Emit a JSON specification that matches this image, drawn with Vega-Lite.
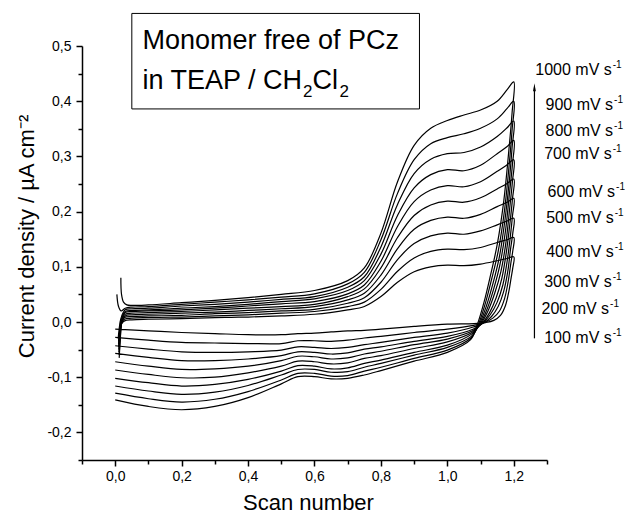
{
"$schema":"https://vega.github.io/schema/vega-lite/v6.json",
"width":465,"height":414,
"autosize":"none",
"padding":{"left":82,"top":46,"right":78,"bottom":55},
"config":{"view":{"stroke":null},"font":"Liberation Sans","text":{"color":"black"}},
"datasets":{"cv":[
{"c":1,"x":0.010,"y":-0.035},{"c":1,"x":0.013,"y":-0.020},{"c":1,"x":0.018,"y":-0.004},{"c":1,"x":0.028,"y":0.002},
{"c":1,"x":0.05,"y":0.004},{"c":1,"x":0.1,"y":0.005},{"c":1,"x":0.2,"y":0.006},{"c":1,"x":0.3,"y":0.008},{"c":1,"x":0.4,"y":0.009},{"c":1,"x":0.5,"y":0.011},{"c":1,"x":0.6,"y":0.014},{"c":1,"x":0.7,"y":0.022},{"c":1,"x":0.75,"y":0.028},{"c":1,"x":0.8,"y":0.046},{"c":1,"x":0.85,"y":0.072},{"c":1,"x":0.9,"y":0.091},{"c":1,"x":0.95,"y":0.100},{"c":1,"x":1.0,"y":0.103},{"c":1,"x":1.05,"y":0.102},{"c":1,"x":1.1,"y":0.105},{"c":1,"x":1.15,"y":0.111},{"c":1,"x":1.18,"y":0.115},{"c":1,"x":1.2,"y":0.118},
{"c":1,"x":1.197,"y":0.098},{"c":1,"x":1.192,"y":0.080},{"c":1,"x":1.185,"y":0.055},{"c":1,"x":1.175,"y":0.030},{"c":1,"x":1.16,"y":0.012},{"c":1,"x":1.14,"y":0.003},{"c":1,"x":1.115,"y":-0.001},{"c":1,"x":1.08,"y":-0.003},
{"c":1,"x":1.0,"y":-0.004},{"c":1,"x":0.9,"y":-0.008},{"c":1,"x":0.8,"y":-0.013},{"c":1,"x":0.75,"y":-0.015},{"c":1,"x":0.7,"y":-0.016},{"c":1,"x":0.65,"y":-0.018},{"c":1,"x":0.6,"y":-0.020},{"c":1,"x":0.55,"y":-0.021},{"c":1,"x":0.5,"y":-0.023},{"c":1,"x":0.4,"y":-0.023},{"c":1,"x":0.3,"y":-0.021},{"c":1,"x":0.2,"y":-0.019},{"c":1,"x":0.1,"y":-0.016},{"c":1,"x":0.0,"y":-0.013},

{"c":2,"x":0.010,"y":-0.045},{"c":2,"x":0.013,"y":-0.025},{"c":2,"x":0.018,"y":-0.003},{"c":2,"x":0.028,"y":0.005},
{"c":2,"x":0.05,"y":0.007},{"c":2,"x":0.1,"y":0.008},{"c":2,"x":0.2,"y":0.009},{"c":2,"x":0.3,"y":0.011},{"c":2,"x":0.4,"y":0.013},{"c":2,"x":0.5,"y":0.016},{"c":2,"x":0.6,"y":0.019},{"c":2,"x":0.7,"y":0.028},{"c":2,"x":0.75,"y":0.036},{"c":2,"x":0.8,"y":0.059},{"c":2,"x":0.85,"y":0.092},{"c":2,"x":0.9,"y":0.116},{"c":2,"x":0.95,"y":0.128},{"c":2,"x":1.0,"y":0.132},{"c":2,"x":1.05,"y":0.131},{"c":2,"x":1.1,"y":0.135},{"c":2,"x":1.15,"y":0.144},{"c":2,"x":1.18,"y":0.149},{"c":2,"x":1.2,"y":0.153},
{"c":2,"x":1.197,"y":0.129},{"c":2,"x":1.191,"y":0.106},{"c":2,"x":1.183,"y":0.073},{"c":2,"x":1.172,"y":0.042},{"c":2,"x":1.157,"y":0.020},{"c":2,"x":1.137,"y":0.007},{"c":2,"x":1.112,"y":-0.001},{"c":2,"x":1.079,"y":-0.006},
{"c":2,"x":1.0,"y":-0.013},{"c":2,"x":0.9,"y":-0.019},{"c":2,"x":0.8,"y":-0.026},{"c":2,"x":0.75,"y":-0.029},{"c":2,"x":0.7,"y":-0.033},{"c":2,"x":0.65,"y":-0.035},{"c":2,"x":0.6,"y":-0.034},{"c":2,"x":0.55,"y":-0.034},{"c":2,"x":0.5,"y":-0.039},{"c":2,"x":0.4,"y":-0.039},{"c":2,"x":0.3,"y":-0.038},{"c":2,"x":0.2,"y":-0.037},{"c":2,"x":0.1,"y":-0.033},{"c":2,"x":0.0,"y":-0.028},

{"c":3,"x":0.011,"y":-0.055},{"c":3,"x":0.014,"y":-0.030},{"c":3,"x":0.019,"y":-0.002},{"c":3,"x":0.028,"y":0.008},
{"c":3,"x":0.05,"y":0.010},{"c":3,"x":0.1,"y":0.011},{"c":3,"x":0.2,"y":0.012},{"c":3,"x":0.3,"y":0.015},{"c":3,"x":0.4,"y":0.017},{"c":3,"x":0.5,"y":0.020},{"c":3,"x":0.6,"y":0.023},{"c":3,"x":0.7,"y":0.034},{"c":3,"x":0.75,"y":0.044},{"c":3,"x":0.8,"y":0.072},{"c":3,"x":0.85,"y":0.113},{"c":3,"x":0.9,"y":0.142},{"c":3,"x":0.95,"y":0.156},{"c":3,"x":1.0,"y":0.161},{"c":3,"x":1.05,"y":0.159},{"c":3,"x":1.1,"y":0.165},{"c":3,"x":1.15,"y":0.176},{"c":3,"x":1.18,"y":0.183},{"c":3,"x":1.2,"y":0.188},
{"c":3,"x":1.197,"y":0.161},{"c":3,"x":1.190,"y":0.131},{"c":3,"x":1.182,"y":0.092},{"c":3,"x":1.169,"y":0.054},{"c":3,"x":1.153,"y":0.028},{"c":3,"x":1.133,"y":0.010},{"c":3,"x":1.109,"y":-0.002},{"c":3,"x":1.078,"y":-0.009},
{"c":3,"x":1.0,"y":-0.020},{"c":3,"x":0.9,"y":-0.028},{"c":3,"x":0.8,"y":-0.037},{"c":3,"x":0.75,"y":-0.041},{"c":3,"x":0.7,"y":-0.046},{"c":3,"x":0.65,"y":-0.048},{"c":3,"x":0.6,"y":-0.046},{"c":3,"x":0.55,"y":-0.045},{"c":3,"x":0.5,"y":-0.051},{"c":3,"x":0.4,"y":-0.054},{"c":3,"x":0.3,"y":-0.055},{"c":3,"x":0.2,"y":-0.054},{"c":3,"x":0.1,"y":-0.049},{"c":3,"x":0.0,"y":-0.043},

{"c":4,"x":0.012,"y":-0.065},{"c":4,"x":0.015,"y":-0.035},{"c":4,"x":0.020,"y":-0.001},{"c":4,"x":0.030,"y":0.011},
{"c":4,"x":0.05,"y":0.013},{"c":4,"x":0.1,"y":0.014},{"c":4,"x":0.2,"y":0.016},{"c":4,"x":0.3,"y":0.018},{"c":4,"x":0.4,"y":0.021},{"c":4,"x":0.5,"y":0.024},{"c":4,"x":0.6,"y":0.028},{"c":4,"x":0.7,"y":0.040},{"c":4,"x":0.75,"y":0.052},{"c":4,"x":0.8,"y":0.085},{"c":4,"x":0.85,"y":0.133},{"c":4,"x":0.9,"y":0.168},{"c":4,"x":0.95,"y":0.184},{"c":4,"x":1.0,"y":0.190},{"c":4,"x":1.05,"y":0.188},{"c":4,"x":1.1,"y":0.195},{"c":4,"x":1.15,"y":0.209},{"c":4,"x":1.18,"y":0.217},{"c":4,"x":1.2,"y":0.224},
{"c":4,"x":1.196,"y":0.192},{"c":4,"x":1.190,"y":0.157},{"c":4,"x":1.180,"y":0.110},{"c":4,"x":1.167,"y":0.067},{"c":4,"x":1.150,"y":0.036},{"c":4,"x":1.130,"y":0.014},{"c":4,"x":1.107,"y":-0.002},{"c":4,"x":1.077,"y":-0.013},
{"c":4,"x":1.0,"y":-0.026},{"c":4,"x":0.9,"y":-0.035},{"c":4,"x":0.8,"y":-0.045},{"c":4,"x":0.75,"y":-0.049},{"c":4,"x":0.7,"y":-0.056},{"c":4,"x":0.65,"y":-0.058},{"c":4,"x":0.6,"y":-0.055},{"c":4,"x":0.55,"y":-0.054},{"c":4,"x":0.5,"y":-0.061},{"c":4,"x":0.4,"y":-0.067},{"c":4,"x":0.3,"y":-0.070},{"c":4,"x":0.2,"y":-0.070},{"c":4,"x":0.1,"y":-0.064},{"c":4,"x":0.0,"y":-0.057},

{"c":5,"x":0.012,"y":-0.060},{"c":5,"x":0.015,"y":-0.030},{"c":5,"x":0.020,"y":0.000},{"c":5,"x":0.030,"y":0.014},
{"c":5,"x":0.05,"y":0.016},{"c":5,"x":0.1,"y":0.017},{"c":5,"x":0.2,"y":0.019},{"c":5,"x":0.3,"y":0.022},{"c":5,"x":0.4,"y":0.025},{"c":5,"x":0.5,"y":0.028},{"c":5,"x":0.6,"y":0.032},{"c":5,"x":0.7,"y":0.046},{"c":5,"x":0.75,"y":0.060},{"c":5,"x":0.8,"y":0.098},{"c":5,"x":0.85,"y":0.153},{"c":5,"x":0.9,"y":0.193},{"c":5,"x":0.95,"y":0.212},{"c":5,"x":1.0,"y":0.219},{"c":5,"x":1.05,"y":0.217},{"c":5,"x":1.1,"y":0.225},{"c":5,"x":1.15,"y":0.241},{"c":5,"x":1.18,"y":0.251},{"c":5,"x":1.2,"y":0.259},
{"c":5,"x":1.196,"y":0.223},{"c":5,"x":1.189,"y":0.182},{"c":5,"x":1.178,"y":0.128},{"c":5,"x":1.164,"y":0.079},{"c":5,"x":1.147,"y":0.044},{"c":5,"x":1.127,"y":0.017},{"c":5,"x":1.104,"y":-0.003},{"c":5,"x":1.076,"y":-0.016},
{"c":5,"x":1.0,"y":-0.031},{"c":5,"x":0.9,"y":-0.041},{"c":5,"x":0.8,"y":-0.053},{"c":5,"x":0.75,"y":-0.058},{"c":5,"x":0.7,"y":-0.065},{"c":5,"x":0.65,"y":-0.067},{"c":5,"x":0.6,"y":-0.063},{"c":5,"x":0.55,"y":-0.062},{"c":5,"x":0.5,"y":-0.070},{"c":5,"x":0.4,"y":-0.080},{"c":5,"x":0.3,"y":-0.085},{"c":5,"x":0.2,"y":-0.086},{"c":5,"x":0.1,"y":-0.080},{"c":5,"x":0.0,"y":-0.072},

{"c":6,"x":0.011,"y":-0.050},{"c":6,"x":0.014,"y":-0.025},{"c":6,"x":0.019,"y":0.002},{"c":6,"x":0.030,"y":0.017},
{"c":6,"x":0.05,"y":0.019},{"c":6,"x":0.1,"y":0.020},{"c":6,"x":0.2,"y":0.022},{"c":6,"x":0.3,"y":0.025},{"c":6,"x":0.4,"y":0.029},{"c":6,"x":0.5,"y":0.033},{"c":6,"x":0.6,"y":0.037},{"c":6,"x":0.7,"y":0.051},{"c":6,"x":0.75,"y":0.067},{"c":6,"x":0.8,"y":0.110},{"c":6,"x":0.85,"y":0.173},{"c":6,"x":0.9,"y":0.218},{"c":6,"x":0.95,"y":0.239},{"c":6,"x":1.0,"y":0.247},{"c":6,"x":1.05,"y":0.245},{"c":6,"x":1.1,"y":0.254},{"c":6,"x":1.15,"y":0.273},{"c":6,"x":1.18,"y":0.285},{"c":6,"x":1.2,"y":0.294},
{"c":6,"x":1.196,"y":0.255},{"c":6,"x":1.188,"y":0.208},{"c":6,"x":1.177,"y":0.147},{"c":6,"x":1.161,"y":0.091},{"c":6,"x":1.143,"y":0.053},{"c":6,"x":1.123,"y":0.021},{"c":6,"x":1.101,"y":-0.003},{"c":6,"x":1.074,"y":-0.019},
{"c":6,"x":1.0,"y":-0.036},{"c":6,"x":0.9,"y":-0.048},{"c":6,"x":0.8,"y":-0.061},{"c":6,"x":0.75,"y":-0.066},{"c":6,"x":0.7,"y":-0.074},{"c":6,"x":0.65,"y":-0.076},{"c":6,"x":0.6,"y":-0.072},{"c":6,"x":0.55,"y":-0.071},{"c":6,"x":0.5,"y":-0.080},{"c":6,"x":0.4,"y":-0.092},{"c":6,"x":0.3,"y":-0.100},{"c":6,"x":0.2,"y":-0.101},{"c":6,"x":0.1,"y":-0.095},{"c":6,"x":0.0,"y":-0.087},

{"c":7,"x":0.010,"y":-0.040},{"c":7,"x":0.013,"y":-0.020},{"c":7,"x":0.018,"y":0.004},{"c":7,"x":0.030,"y":0.019},
{"c":7,"x":0.05,"y":0.021},{"c":7,"x":0.1,"y":0.022},{"c":7,"x":0.2,"y":0.025},{"c":7,"x":0.3,"y":0.028},{"c":7,"x":0.4,"y":0.032},{"c":7,"x":0.5,"y":0.037},{"c":7,"x":0.6,"y":0.042},{"c":7,"x":0.7,"y":0.057},{"c":7,"x":0.75,"y":0.075},{"c":7,"x":0.8,"y":0.123},{"c":7,"x":0.85,"y":0.193},{"c":7,"x":0.9,"y":0.243},{"c":7,"x":0.95,"y":0.267},{"c":7,"x":1.0,"y":0.276},{"c":7,"x":1.05,"y":0.274},{"c":7,"x":1.1,"y":0.284},{"c":7,"x":1.15,"y":0.305},{"c":7,"x":1.18,"y":0.318},{"c":7,"x":1.2,"y":0.329},
{"c":7,"x":1.196,"y":0.286},{"c":7,"x":1.187,"y":0.233},{"c":7,"x":1.175,"y":0.165},{"c":7,"x":1.158,"y":0.103},{"c":7,"x":1.140,"y":0.061},{"c":7,"x":1.120,"y":0.024},{"c":7,"x":1.098,"y":-0.004},{"c":7,"x":1.073,"y":-0.022},
{"c":7,"x":1.0,"y":-0.042},{"c":7,"x":0.9,"y":-0.055},{"c":7,"x":0.8,"y":-0.069},{"c":7,"x":0.75,"y":-0.075},{"c":7,"x":0.7,"y":-0.083},{"c":7,"x":0.65,"y":-0.085},{"c":7,"x":0.6,"y":-0.080},{"c":7,"x":0.55,"y":-0.079},{"c":7,"x":0.5,"y":-0.089},{"c":7,"x":0.4,"y":-0.104},{"c":7,"x":0.3,"y":-0.113},{"c":7,"x":0.2,"y":-0.116},{"c":7,"x":0.1,"y":-0.110},{"c":7,"x":0.0,"y":-0.102},

{"c":8,"x":0.009,"y":-0.030},{"c":8,"x":0.012,"y":-0.012},{"c":8,"x":0.017,"y":0.006},{"c":8,"x":0.030,"y":0.022},
{"c":8,"x":0.05,"y":0.024},{"c":8,"x":0.1,"y":0.025},{"c":8,"x":0.2,"y":0.029},{"c":8,"x":0.3,"y":0.032},{"c":8,"x":0.4,"y":0.036},{"c":8,"x":0.5,"y":0.041},{"c":8,"x":0.6,"y":0.046},{"c":8,"x":0.7,"y":0.063},{"c":8,"x":0.75,"y":0.082},{"c":8,"x":0.8,"y":0.136},{"c":8,"x":0.85,"y":0.213},{"c":8,"x":0.9,"y":0.269},{"c":8,"x":0.95,"y":0.295},{"c":8,"x":1.0,"y":0.305},{"c":8,"x":1.05,"y":0.307},{"c":8,"x":1.1,"y":0.317},{"c":8,"x":1.15,"y":0.336},{"c":8,"x":1.18,"y":0.352},{"c":8,"x":1.2,"y":0.364},
{"c":8,"x":1.195,"y":0.317},{"c":8,"x":1.187,"y":0.259},{"c":8,"x":1.173,"y":0.183},{"c":8,"x":1.156,"y":0.116},{"c":8,"x":1.137,"y":0.069},{"c":8,"x":1.117,"y":0.028},{"c":8,"x":1.096,"y":-0.004},{"c":8,"x":1.072,"y":-0.026},
{"c":8,"x":1.0,"y":-0.046},{"c":8,"x":0.9,"y":-0.060},{"c":8,"x":0.8,"y":-0.075},{"c":8,"x":0.75,"y":-0.082},{"c":8,"x":0.7,"y":-0.090},{"c":8,"x":0.65,"y":-0.091},{"c":8,"x":0.6,"y":-0.086},{"c":8,"x":0.55,"y":-0.086},{"c":8,"x":0.5,"y":-0.096},{"c":8,"x":0.4,"y":-0.115},{"c":8,"x":0.3,"y":-0.127},{"c":8,"x":0.2,"y":-0.131},{"c":8,"x":0.1,"y":-0.125},{"c":8,"x":0.0,"y":-0.116},

{"c":9,"x":0.005,"y":0.050},{"c":9,"x":0.010,"y":0.028},{"c":9,"x":0.018,"y":0.020},{"c":9,"x":0.030,"y":0.025},
{"c":9,"x":0.05,"y":0.027},{"c":9,"x":0.1,"y":0.028},{"c":9,"x":0.2,"y":0.032},{"c":9,"x":0.3,"y":0.036},{"c":9,"x":0.4,"y":0.040},{"c":9,"x":0.5,"y":0.045},{"c":9,"x":0.6,"y":0.051},{"c":9,"x":0.7,"y":0.069},{"c":9,"x":0.75,"y":0.090},{"c":9,"x":0.8,"y":0.149},{"c":9,"x":0.85,"y":0.233},{"c":9,"x":0.9,"y":0.294},{"c":9,"x":0.95,"y":0.323},{"c":9,"x":1.0,"y":0.334},{"c":9,"x":1.05,"y":0.341},{"c":9,"x":1.1,"y":0.351},{"c":9,"x":1.15,"y":0.368},{"c":9,"x":1.18,"y":0.387},{"c":9,"x":1.2,"y":0.400},
{"c":9,"x":1.195,"y":0.349},{"c":9,"x":1.186,"y":0.284},{"c":9,"x":1.172,"y":0.202},{"c":9,"x":1.153,"y":0.128},{"c":9,"x":1.133,"y":0.077},{"c":9,"x":1.113,"y":0.031},{"c":9,"x":1.093,"y":-0.005},{"c":9,"x":1.071,"y":-0.029},
{"c":9,"x":1.0,"y":-0.051},{"c":9,"x":0.9,"y":-0.066},{"c":9,"x":0.8,"y":-0.082},{"c":9,"x":0.75,"y":-0.089},{"c":9,"x":0.7,"y":-0.097},{"c":9,"x":0.65,"y":-0.098},{"c":9,"x":0.6,"y":-0.093},{"c":9,"x":0.55,"y":-0.093},{"c":9,"x":0.5,"y":-0.105},{"c":9,"x":0.4,"y":-0.126},{"c":9,"x":0.3,"y":-0.140},{"c":9,"x":0.2,"y":-0.145},{"c":9,"x":0.1,"y":-0.139},{"c":9,"x":0.0,"y":-0.129},

{"c":10,"x":0.017,"y":0.080},{"c":10,"x":0.019,"y":0.050},{"c":10,"x":0.025,"y":0.036},{"c":10,"x":0.035,"y":0.031},
{"c":10,"x":0.05,"y":0.030},{"c":10,"x":0.1,"y":0.031},{"c":10,"x":0.2,"y":0.035},{"c":10,"x":0.3,"y":0.039},{"c":10,"x":0.4,"y":0.044},{"c":10,"x":0.5,"y":0.050},{"c":10,"x":0.6,"y":0.057},{"c":10,"x":0.7,"y":0.075},{"c":10,"x":0.75,"y":0.098},{"c":10,"x":0.8,"y":0.161},{"c":10,"x":0.85,"y":0.254},{"c":10,"x":0.9,"y":0.320},{"c":10,"x":0.95,"y":0.351},{"c":10,"x":1.0,"y":0.365},{"c":10,"x":1.05,"y":0.375},{"c":10,"x":1.1,"y":0.384},{"c":10,"x":1.15,"y":0.400},{"c":10,"x":1.18,"y":0.421},{"c":10,"x":1.2,"y":0.435},
{"c":10,"x":1.195,"y":0.380},{"c":10,"x":1.185,"y":0.310},{"c":10,"x":1.170,"y":0.220},{"c":10,"x":1.150,"y":0.140},{"c":10,"x":1.130,"y":0.085},{"c":10,"x":1.110,"y":0.035},{"c":10,"x":1.090,"y":-0.005},{"c":10,"x":1.070,"y":-0.032},
{"c":10,"x":1.0,"y":-0.055},{"c":10,"x":0.9,"y":-0.071},{"c":10,"x":0.8,"y":-0.088},{"c":10,"x":0.75,"y":-0.096},{"c":10,"x":0.7,"y":-0.102},{"c":10,"x":0.65,"y":-0.103},{"c":10,"x":0.6,"y":-0.099},{"c":10,"x":0.55,"y":-0.099},{"c":10,"x":0.5,"y":-0.112},{"c":10,"x":0.4,"y":-0.137},{"c":10,"x":0.3,"y":-0.153},{"c":10,"x":0.2,"y":-0.159},{"c":10,"x":0.1,"y":-0.153},{"c":10,"x":0.0,"y":-0.141}
],
"rates":[
{"t":"1000 mV s","x":1.495,"y":0.4475},
{"t":"900 mV s","x":1.499,"y":0.3841},
{"t":"800 mV s","x":1.499,"y":0.3370},
{"t":"700 mV s","x":1.495,"y":0.2953},
{"t":"600 mV s","x":1.505,"y":0.2264},
{"t":"500 mV s","x":1.501,"y":0.1793},
{"t":"400 mV s","x":1.501,"y":0.1178},
{"t":"300 mV s","x":1.495,"y":0.0634},
{"t":"200 mV s","x":1.487,"y":0.0145},
{"t":"100 mV s","x":1.495,"y":-0.0380}
]},
"encoding":{
  "x":{"field":"x","type":"quantitative","scale":{"domain":[-0.1,1.3],"nice":false,"zero":false},
   "axis":{"title":"Scan number","values":[-0.1,0,0.1,0.2,0.3,0.4,0.5,0.6,0.7,0.8,0.9,1.0,1.1,1.2,1.3],
    "labelExpr":"round(datum.value*10)%2==0 ? (datum.value < -0.001 ? '-' : '') + floor(abs(datum.value)+0.0001) + ',' + (round(abs(datum.value)*10)%10) : ''",
    "tickSize":{"condition":{"test":"round(datum.value*10)%2==0","value":6},"value":4},
    "grid":false,"domainColor":"black","domainWidth":1.5,"tickColor":"black","tickWidth":1.5,
    "labelFontSize":14,"labelColor":"black","labelPadding":3,"labelFlush":false,"labelOverlap":false,
    "titleFontSize":22,"titleFontWeight":"normal","titleColor":"black","titleX":226,"titleY":49,"titleBaseline":"alphabetic"}},
  "y":{"field":"y","type":"quantitative","scale":{"domain":[-0.25,0.5],"nice":false,"zero":false},
   "axis":{"title":"Current density / µA cm⁻²","values":[-0.25,-0.2,-0.15,-0.1,-0.05,0,0.05,0.1,0.15,0.2,0.25,0.3,0.35,0.4,0.45,0.5],
    "labelExpr":"round(datum.value*20)%2==0 ? (datum.value < -0.001 ? '-' : '') + floor(abs(datum.value)+0.0001) + ',' + (round(abs(datum.value)*10)%10) : ''",
    "tickSize":{"condition":{"test":"round(datum.value*20)%2==0","value":6},"value":4},
    "grid":false,"domainColor":"black","domainWidth":1.5,"tickColor":"black","tickWidth":1.5,
    "labelFontSize":14,"labelColor":"black","labelPadding":5,"labelFlush":false,"labelOverlap":false,
    "titleFontSize":22,"titleFontWeight":"normal","titleColor":"black","titleX":-49,"titleY":190,"titleBaseline":"alphabetic"}}
},
"layer":[
{"data":{"name":"cv"},
 "mark":{"type":"line","color":"black","strokeWidth":1.2,"interpolate":"catmull-rom"},
 "encoding":{"detail":{"field":"c","type":"nominal"},"order":{"value":null}}},
{"data":{"values":[{"x":0.05,"x2":0.916,"y":0.386,"y2":0.559}]},
 "mark":{"type":"rect","fill":"white","stroke":"black","strokeWidth":1},
 "encoding":{"x2":{"field":"x2"},"y2":{"field":"y2"}}},
{"data":{"values":[{"t":"Monomer free of PCz","x":0.082,"y":0.494},{"t":"in TEAP / CH","x":0.082,"y":0.423},{"t":"Cl","x":0.5937,"y":0.423}]},
 "mark":{"type":"text","align":"left","baseline":"alphabetic","fontSize":27,"color":"black"},
 "encoding":{"text":{"field":"t"}}},
{"data":{"values":[{"t":"2","x":0.565,"y":0.408},{"t":"2","x":0.6749,"y":0.408}]},
 "mark":{"type":"text","align":"left","baseline":"alphabetic","fontSize":17,"color":"black"},
 "encoding":{"text":{"field":"t"}}},
{"data":{"name":"rates"},
 "mark":{"type":"text","align":"right","baseline":"alphabetic","fontSize":16,"color":"black"},
 "encoding":{"text":{"field":"t"}}},
{"data":{"name":"rates"},
 "mark":{"type":"text","align":"left","baseline":"alphabetic","fontSize":10,"dx":1,"dy":-7,"color":"black"},
 "encoding":{"text":{"value":"-1"}}},
{"data":{"values":[{"x":1.2622,"y":-0.0296,"y2":0.425}]},
 "mark":{"type":"rule","color":"black","strokeWidth":1.2},
 "encoding":{"y2":{"field":"y2"}}},
{"data":{"values":[{"x":1.2622,"y":0.4252}]},
 "mark":{"type":"point","shape":"M0,-1L0.35,1L-0.35,1Z","filled":true,"color":"black","size":64,"opacity":1},
 "encoding":{}}
]
}
